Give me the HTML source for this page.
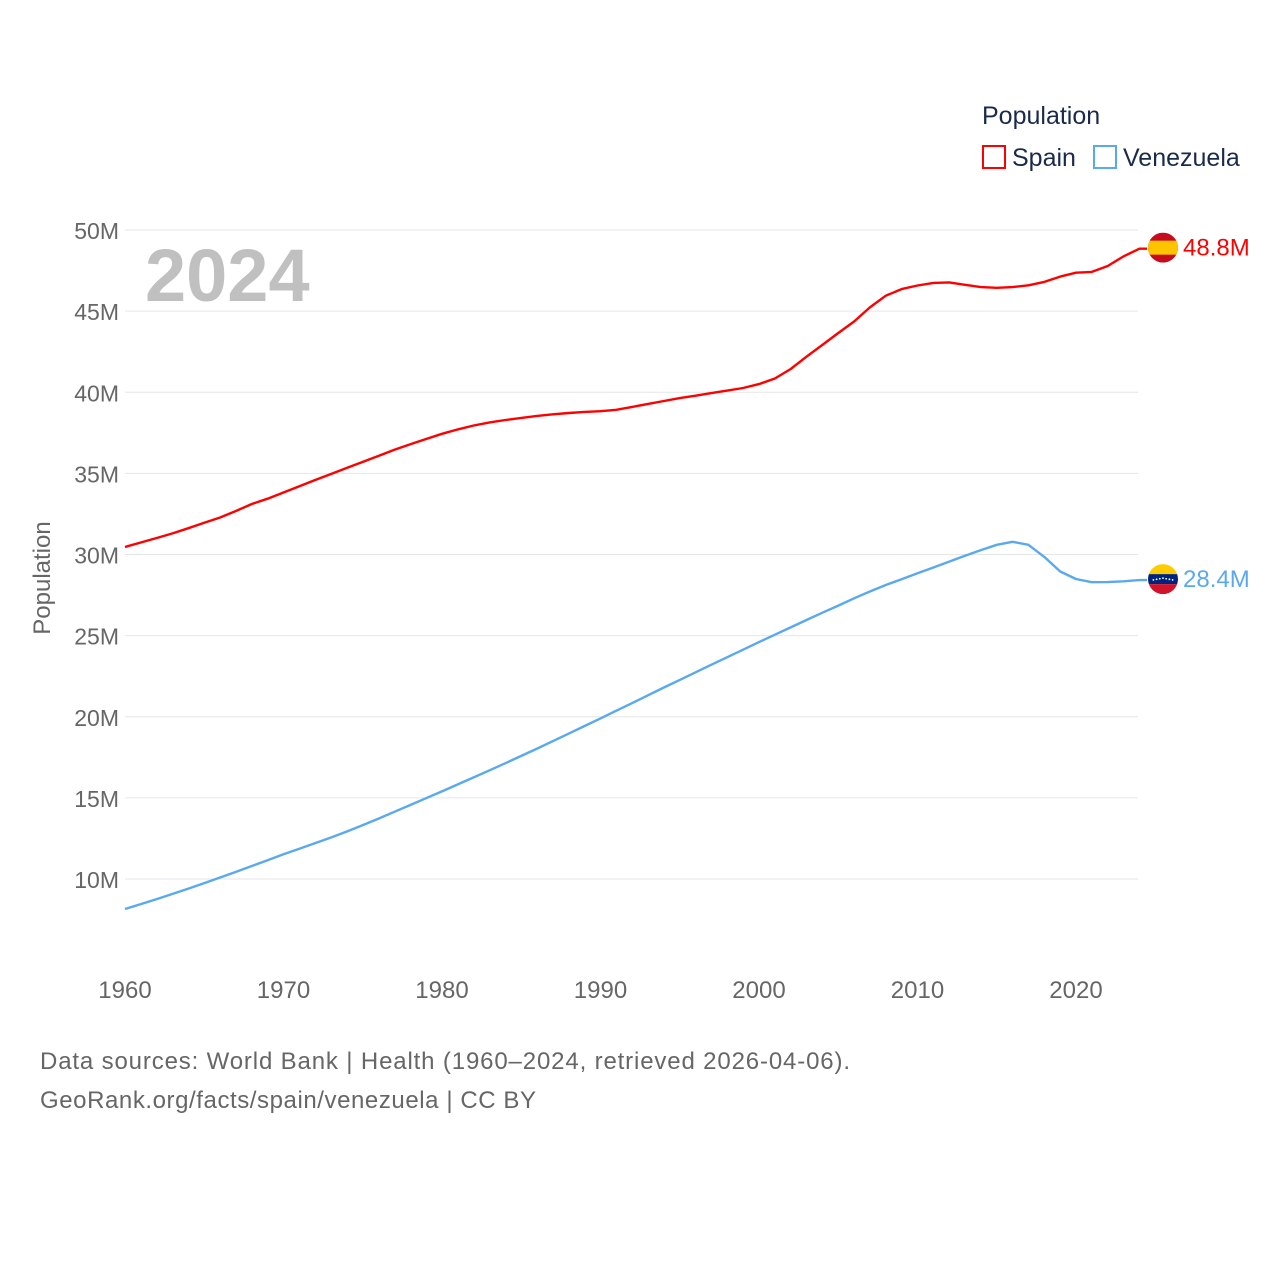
<!DOCTYPE html>
<html><head><meta charset="utf-8"><style>
html,body{margin:0;padding:0;background:#fff;}
svg{display:block;font-family:"Liberation Sans",sans-serif;}
</style></head><body>
<svg id="chart" width="1280" height="1280" viewBox="0 0 1280 1280" xmlns="http://www.w3.org/2000/svg">
<rect width="1280" height="1280" fill="#fff"/>
<g id="grid"></g><g id="yticks"></g><g id="xticks"></g><g id="lines"></g>
<text x="145" y="301" font-size="74" font-weight="bold" fill="#c0c0c0">2024</text>
<text transform="translate(50,578) rotate(-90)" text-anchor="middle" font-size="24" fill="#666">Population</text>
<g>
<text x="982" y="124" font-size="25" fill="#1a2a4a">Population</text>
<g>
<rect x="983" y="146" width="22" height="22" fill="none" stroke="#ff0000" stroke-width="2"/>
<text x="1012" y="166" font-size="25" fill="#1a2a4a">Spain</text></g>
<g>
<rect x="1094" y="146" width="22" height="22" fill="none" stroke="#5aa9ee" stroke-width="2"/>
<text x="1123" y="166" font-size="25" fill="#1a2a4a">Venezuela</text></g>
</g>
<text x="40" y="1069" font-size="24" fill="#666" textLength="810" lengthAdjust="spacing">Data sources: World Bank | Health (1960–2024, retrieved 2026-04-06).</text>
<text x="40" y="1108" font-size="24" fill="#666" textLength="496" lengthAdjust="spacing">GeoRank.org/facts/spain/venezuela | CC BY</text>
</svg>
<script>
const years = [];
for (let y = 1960; y <= 2024; y++) years.push(y);
const spain = [30.46,30.74,31.02,31.30,31.62,31.96,32.28,32.68,33.11,33.44,33.82,34.21,34.59,34.96,35.34,35.71,36.08,36.45,36.80,37.12,37.44,37.71,37.95,38.14,38.29,38.42,38.54,38.64,38.72,38.79,38.83,38.92,39.10,39.28,39.46,39.64,39.79,39.95,40.10,40.26,40.50,40.85,41.43,42.19,42.92,43.65,44.36,45.23,45.95,46.36,46.58,46.74,46.77,46.62,46.48,46.44,46.48,46.59,46.80,47.13,47.37,47.42,47.78,48.37,48.85];
const venezuela = [8.15,8.45,8.76,9.08,9.41,9.75,10.09,10.44,10.80,11.15,11.52,11.86,12.21,12.56,12.93,13.32,13.72,14.14,14.56,14.98,15.40,15.83,16.26,16.70,17.14,17.59,18.04,18.50,18.96,19.43,19.90,20.37,20.84,21.32,21.80,22.27,22.74,23.21,23.67,24.13,24.60,25.06,25.51,25.96,26.41,26.85,27.30,27.72,28.12,28.48,28.84,29.20,29.56,29.92,30.27,30.60,30.78,30.60,29.85,28.95,28.49,28.29,28.30,28.35,28.42];
const yTicks = [10,15,20,25,30,35,40,45,50];
const xTicks = [1960,1970,1980,1990,2000,2010,2020];
const endLabels = ["48.8M","28.4M"];

const NS="http://www.w3.org/2000/svg";
const xs = y => 125 + (y-1960)*(951/60);
const ys = v => 879 - (v-10)*(649/40);
function mk(tag, attrs, parent){const e=document.createElementNS(NS,tag);for(const k in attrs)e.setAttribute(k,attrs[k]);parent.appendChild(e);return e;}
const grid=document.getElementById('grid'), yt=document.getElementById('yticks'), xt=document.getElementById('xticks'), lines=document.getElementById('lines');
yTicks.forEach(v=>{
  const l=mk('line',{x1:125,x2:1138,y1:ys(v),y2:ys(v),stroke:'#e6e6e6','stroke-width':1},grid);
  
  
  const t=mk('text',{x:119,y:ys(v)+9,'text-anchor':'end','font-size':23,fill:'#666'},yt);
  t.textContent=v+'M';
  
  
});
xTicks.forEach(y=>{
  const t=mk('text',{x:xs(y),y:998,'text-anchor':'middle','font-size':24,fill:'#666'},xt);
  t.textContent=y;
  
  
});
function series(vals,color,name,label){
  let d=vals.map((v,i)=>(i?'L':'M')+xs(years[i]).toFixed(1)+','+ys(v).toFixed(1)).join(' ');
  const lastY=ys(vals[vals.length-1]);
  d+=' L1147,'+lastY.toFixed(1);
  const p=mk('path',{d:d,fill:'none',stroke:color,'stroke-width':2.4,'stroke-linejoin':'round'},lines);
  
  
  const g=mk('g',{},lines);
  
  
  const cx=1163, cy=lastY-1;
  const clip=mk('clipPath',{id:'c'+name},g);
  mk('circle',{cx:cx,cy:cy,r:15},clip);
  const gg=mk('g',{'clip-path':'url(#c'+name+')'},g);
  if(name==='spain'){
    mk('rect',{x:cx-15,y:cy-15,width:30,height:30,fill:'#c60b1e'},gg);
    mk('rect',{x:cx-15,y:cy-7,width:30,height:14,fill:'#ffc400'},gg);
  } else {
    mk('rect',{x:cx-15,y:cy-15,width:30,height:10,fill:'#ffcc00'},gg);
    mk('rect',{x:cx-15,y:cy-5,width:30,height:10,fill:'#00247d'},gg);
    mk('rect',{x:cx-15,y:cy+5,width:30,height:10,fill:'#cf142b'},gg);
    for(let k=-3;k<=3;k++) mk('circle',{cx:cx+k*3.2,cy:cy-1+Math.abs(k)*0.6,r:0.9,fill:'#fff'},gg);
  }
  const t=mk('text',{x:1183,y:cy+8,'font-size':24,fill:color},lines);
  t.textContent=label;
  
  
}
series(spain,'#ff0000','spain',endLabels[0]);
series(venezuela,'#5aa9ee','venezuela',endLabels[1]);
</script>
</body></html>
